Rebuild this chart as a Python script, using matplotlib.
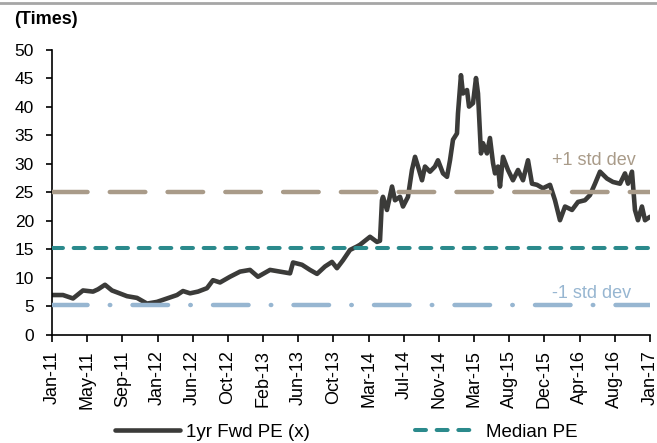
import matplotlib
matplotlib.use("Agg")
import matplotlib.pyplot as plt
from matplotlib.lines import Line2D
import numpy as np

plt.rcParams['font.family'] = ['Liberation Sans', 'DejaVu Sans']
plt.rcParams['lines.scale_dashes'] = False

# months since Jan-2011
months = [0.00, 1.32, 2.53, 3.73, 4.94, 5.54, 6.38, 7.22, 7.95, 9.03, 10.23, 11.44,
          12.64, 13.85, 15.05, 15.77, 16.62, 17.58, 18.66, 19.38, 20.23, 21.43, 22.64,
          23.84, 24.80, 26.25, 27.45, 28.66, 29.02, 30.10, 31.06, 31.91, 32.87, 33.71,
          34.31, 35.04, 35.88, 36.72, 37.08, 38.29, 39.13, 39.49, 39.73, 39.85, 40.33,
          40.94, 41.30, 41.90, 42.26, 42.86, 43.34, 43.71, 44.07, 44.55, 44.91, 45.51,
          46.11, 46.47, 47.08, 47.56, 47.92, 48.28, 48.76, 48.88, 49.24, 49.48, 49.97,
          50.21, 50.69, 51.05, 51.29, 51.65, 51.89, 52.37, 52.73, 53.10, 53.34, 53.70,
          53.94, 54.30, 54.90, 55.50, 56.11, 56.71, 57.31, 57.79, 58.39, 59.11, 59.96,
          60.56, 61.16, 61.77, 62.61, 63.33, 64.17, 64.77, 65.38, 65.98, 66.82, 67.54,
          68.39, 68.99, 69.35, 69.83, 70.19, 70.55, 71.03, 71.40, 72.00]
pe = [7.0, 7.0, 6.4, 7.8, 7.6, 8.0, 8.8, 7.8, 7.4, 6.8, 6.5, 5.5,
      5.8, 6.4, 7.0, 7.7, 7.3, 7.6, 8.2, 9.6, 9.2, 10.2, 11.1,
      11.4, 10.2, 11.4, 11.1, 10.8, 12.7, 12.3, 11.4, 10.7, 12.0, 12.8,
      11.7, 13.1, 14.9, 15.5, 15.8, 17.2, 16.3, 16.5, 23.6, 24.2, 21.9,
      26.0, 23.6, 24.2, 22.5, 24.2, 28.9, 31.2, 29.5, 27.1, 29.5, 28.6,
      29.5, 30.6, 28.3, 27.7, 30.6, 34.2, 35.3, 38.8, 45.5, 42.3, 42.9,
      40.0, 40.6, 45.0, 42.3, 31.8, 33.6, 31.8, 34.5, 30.1, 28.3, 29.5,
      26.0, 31.2, 28.9, 27.1, 28.9, 27.1, 30.6, 26.5, 26.3, 25.7, 26.3,
      23.6, 20.1, 22.5, 21.9, 23.3, 23.6, 24.5, 26.5, 28.6, 27.4, 26.8,
      26.5, 28.3, 26.5, 28.6, 21.9, 20.1, 22.5, 20.1, 20.7]

tick_labels = ["Jan-11", "May-11", "Sep-11", "Jan-12", "Jun-12", "Oct-12", "Feb-13",
               "Jun-13", "Oct-13", "Mar-14", "Jul-14", "Nov-14", "Mar-15", "Aug-15",
               "Dec-15", "Apr-16", "Aug-16", "Jan-17"]
median_pe = 15.2
plus_std = 25.1
minus_std = 5.25

c_line = '#3b3b39'
c_med = '#2b8a8c'
c_plus = '#a99b89'
c_minus = '#97b6d1'

fig = plt.figure(figsize=(6.57, 4.43), dpi=100)
ax = fig.add_axes([52/657, 1-335/443, (650-52)/657, (335-49.5)/443])

ax.plot(months, pe, color=c_line, lw=3.3, solid_joinstyle='round',
        solid_capstyle='round', zorder=2, label='1yr Fwd PE (x)')
ax.axhline(median_pe, color=c_med, lw=2.9, dash_capstyle='round',
           dashes=(7.9, 7.7), zorder=3, label='Median PE')
ax.axhline(plus_std, color=c_plus, lw=3.2, dash_capstyle='round',
           dashes=(25.6, 16.0), zorder=3)
ax.axhline(minus_std, color=c_minus, lw=3.2, dash_capstyle='round',
           dashes=(25.6, 16.0, 0.36, 16.0), zorder=3)

ax.text(0.836, 30.5, '+1 std dev', color=c_plus, fontsize=13,
        ha='left', va='center', transform=ax.get_yaxis_transform())
ax.text(0.836, 7.3, '-1 std dev', color=c_minus, fontsize=13,
        ha='left', va='center', transform=ax.get_yaxis_transform())

ax.set_xlim(0, 72)
ax.set_ylim(0, 50)
ax.set_yticks(np.arange(0, 51, 5))
ax.set_xticks(np.linspace(0, 72, len(tick_labels)))
ax.set_xticklabels(tick_labels, rotation=90)
ax.tick_params(axis='both', colors='black', width=1.2)
ax.tick_params(axis='y', length=4, pad=9, labelsize=12.5)
ax.tick_params(axis='x', length=5, pad=6, labelsize=13)
for s in ['top', 'right']:
    ax.spines[s].set_visible(False)
for s in ['left', 'bottom']:
    ax.spines[s].set_linewidth(1.2)
    ax.spines[s].set_color('black')

fig.text(14/657, 1-20/443, '(Times)', fontsize=13, fontweight='bold',
         ha='left', va='center')

fig.add_artist(Line2D([0, 1], [1-3/443, 1-3/443], color='#a6a6a6', lw=2.0,
                      transform=fig.transFigure))

handles, labels = ax.get_legend_handles_labels()
fig.legend(handles, labels, loc='center', bbox_to_anchor=(0.527, 1-432/443),
           ncol=2, frameon=False, fontsize=13.5, handlelength=3.5,
           columnspacing=5.6, handletextpad=0.3, borderaxespad=0, borderpad=0)

fig.savefig('out.png', dpi=100)
